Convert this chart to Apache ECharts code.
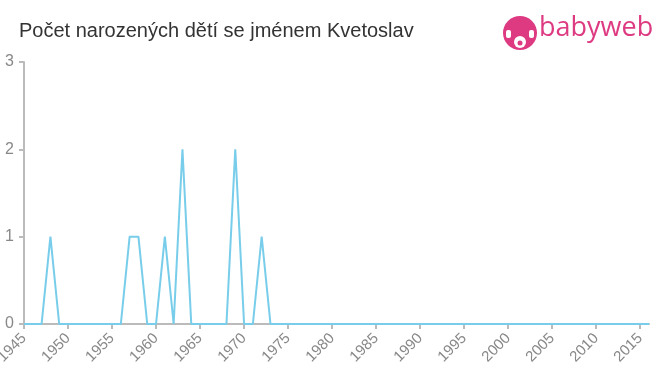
<!DOCTYPE html>
<html><head><meta charset="utf-8">
<script src="https://cdn.jsdelivr.net/npm/echarts@6/dist/echarts.min.js"></script>
<style>html,body{margin:0;padding:0;background:#fff}#c{width:660px;height:375px}</style>
</head><body><div id="c"></div>
<script>
const titleText = "Počet narozených dětí se jménem Kvetoslav";
const years = [1945,1946,1947,1948,1949,1950,1951,1952,1953,1954,1955,1956,1957,1958,1959,1960,1961,1962,1963,1964,1965,1966,1967,1968,1969,1970,1971,1972,1973,1974,1975,1976,1977,1978,1979,1980,1981,1982,1983,1984,1985,1986,1987,1988,1989,1990,1991,1992,1993,1994,1995,1996,1997,1998,1999,2000,2001,2002,2003,2004,2005,2006,2007,2008,2009,2010,2011,2012,2013,2014,2015,2016];
const counts = [0,0,0,1,0,0,0,0,0,0,0,0,1,1,0,0,1,0,2,0,0,0,0,0,2,0,0,1,0,0,0,0,0,0,0,0,0,0,0,0,0,0,0,0,0,0,0,0,0,0,0,0,0,0,0,0,0,0,0,0,0,0,0,0,0,0,0,0,0,0,0,0];
const yTicks = [0,1,2,3];

const chart = echarts.init(document.getElementById('c'), null, {renderer:'canvas'});
chart.setOption({
  animation:false,
  backgroundColor:'#fff',
  title:{text:titleText,left:19,top:21,padding:0,textStyle:{fontFamily:'Liberation Sans, Arial, sans-serif',fontSize:20,fontWeight:'normal',color:'#333'}},
  grid:{left:24,right:11,top:62,bottom:51,containLabel:false,outerBoundsMode:'none'},
  xAxis:{type:'value',min:1945,max:2016,interval:5,
    axisLine:{lineStyle:{color:'#bbb',width:2}},
    axisTick:{show:true,length:5,lineStyle:{color:'#bbb',width:2}},
    axisLabel:{rotate:45,color:'#888',fontSize:15,fontFamily:'Liberation Sans, Arial, sans-serif',margin:12,showMaxLabel:false,
      formatter:v=>String(v)},
    splitLine:{show:false}},
  yAxis:{type:'value',min:0,max:yTicks[yTicks.length-1],interval:1,
    axisLine:{show:true,lineStyle:{color:'#bbb',width:2}},
    axisTick:{show:true,length:5,lineStyle:{color:'#bbb',width:2}},
    axisLabel:{color:'#888',fontSize:16,fontFamily:'Liberation Sans, Arial, sans-serif',margin:10},
    splitLine:{show:false}},
  series:[{type:'line',data:years.map((y,i)=>[y,counts[i]]),showSymbol:false,symbol:'none',
    lineStyle:{color:'#78cdea',width:2},clip:true}],
  graphic:[
    {type:'circle',shape:{cx:520,cy:33,r:17},style:{fill:'#de3a82'}},
    {type:'circle',shape:{cx:520,cy:42,r:6},style:{fill:'#fff'}},
    {type:'circle',shape:{cx:520,cy:43,r:2.5},style:{fill:'#de3a82'}},
    {type:'rect',shape:{x:506,y:30,width:5,height:8,r:2},style:{fill:'#fff'}},
    {type:'rect',shape:{x:529,y:30,width:5,height:8,r:2},style:{fill:'#fff'}},
    {type:'text',left:539,top:15,style:{text:'babyweb',fill:'#de3a82',font:'27px "Open Sans", "Liberation Sans", Arial, sans-serif'}}
  ]
});
</script></body></html>
